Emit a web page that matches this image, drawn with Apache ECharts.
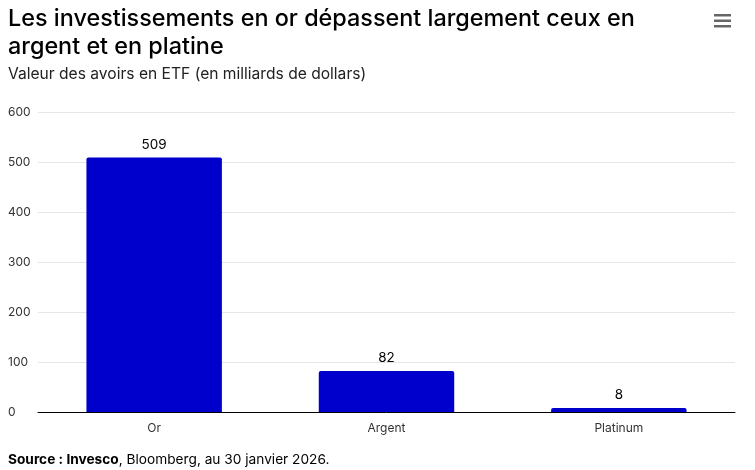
<!DOCTYPE html>
<html>
<head>
<meta charset="utf-8">
<script src="https://cdn.jsdelivr.net/npm/echarts@6/dist/echarts.min.js"></script>
<style>
html,body{margin:0;padding:0;background:#fff;}
#c{width:755px;height:470px;}
</style>
</head>
<body>
<div id="c"></div>
<script>
const categories = ['Or', 'Argent', 'Platinum'];
const values = [509, 82, 8];
const yTicks = [0, 100, 200, 300, 400, 500, 600];

const FONT = 'Inter, Roboto, "Noto Sans", sans-serif';
const chart = echarts.init(document.getElementById('c'), null, {renderer: 'canvas'});
chart.setOption({
  animation: false,
  textStyle: {fontFamily: FONT},
  title: [{
    text: 'Les investissements en or dépassent largement ceux en\nargent et en platine',
    left: 8, top: 4.5, padding: 0,
    textStyle: {fontSize: 23.4, fontWeight: 500, color: '#000', lineHeight: 28, fontFamily: FONT}
  }, {
    text: 'Valeur des avoirs en ETF (en milliards de dollars)',
    left: 8, top: 66, padding: 0,
    textStyle: {fontSize: 15.6, fontWeight: 'normal', color: '#222', fontFamily: FONT}
  }, {
    text: '{b|Source : Invesco}, Bloomberg, au 30 janvier 2026.',
    left: 8, top: 453, padding: 0,
    textStyle: {fontSize: 13.7, fontWeight: 'normal', color: '#000', fontFamily: FONT,
      rich: {b: {fontWeight: 'bold', fontSize: 13.7, color: '#000', fontFamily: FONT}}}
  }],
  graphic: [
    {type: 'rect', left: 714, top: 14, shape: {width: 17, height: 2.5}, style: {fill: '#666'}},
    {type: 'rect', left: 714, top: 19.5, shape: {width: 17, height: 2.5}, style: {fill: '#666'}},
    {type: 'rect', left: 714, top: 25, shape: {width: 17, height: 2.5}, style: {fill: '#666'}}
  ],
  grid: {left: 38, right: 20, top: 112, bottom: 58, containLabel: false},
  xAxis: {
    type: 'category',
    data: categories,
    axisLine: {lineStyle: {color: '#000', width: 1}},
    axisTick: {show: false},
    axisLabel: {color: '#333', fontSize: 12, margin: 10, fontFamily: FONT}
  },
  yAxis: {
    type: 'value',
    min: yTicks[0], max: yTicks[yTicks.length - 1], interval: 100,
    axisLine: {show: false},
    axisTick: {show: false},
    splitLine: {lineStyle: {color: '#e6e6e6', width: 1}},
    axisLabel: {color: '#333', fontSize: 12, align: 'left', margin: 30, fontFamily: FONT}
  },
  series: [{
    type: 'bar',
    data: values,
    barWidth: '58.3%',
    itemStyle: {color: '#0000CC', borderRadius: [2, 2, 0, 0]},
    label: {show: true, position: 'top', distance: 6, color: '#000', fontSize: 13.5, fontFamily: FONT}
  }]
});
</script>
</body>
</html>
